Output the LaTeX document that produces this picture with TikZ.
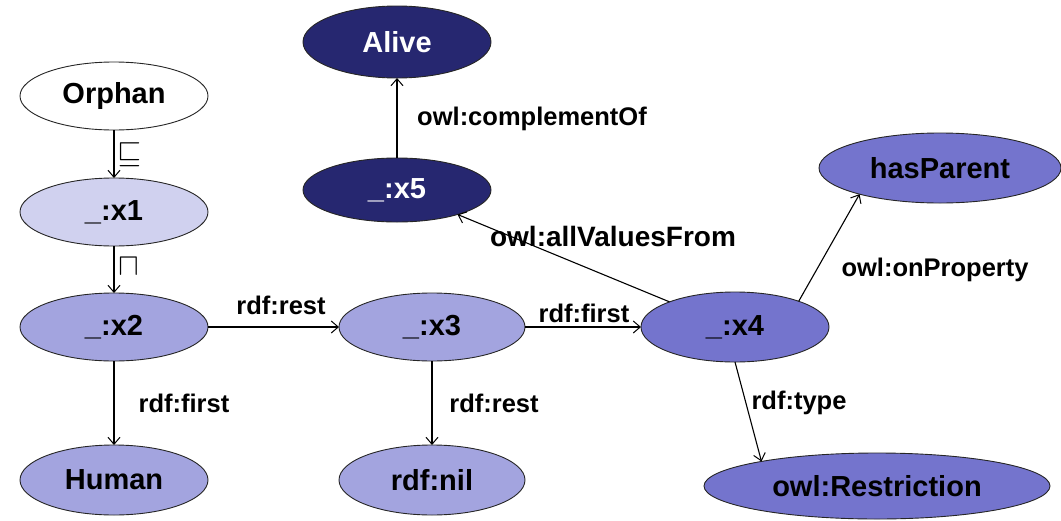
\documentclass[tikz,border=0pt]{standalone}
\usepackage{fontspec}
\setmainfont{Liberation Sans}
\usetikzlibrary{arrows.meta,shapes.geometric}
\definecolor{cwhite}{HTML}{FFFFFF}
\definecolor{clight}{HTML}{D0D1EF}
\definecolor{cmid}{HTML}{A3A4DF}
\definecolor{cdeep}{HTML}{7474CD}
\definecolor{cnavy}{HTML}{262770}
\begin{document}
\begin{tikzpicture}[x=1pt,y=-1pt,
  ent/.style={ellipse, draw=black!85, line width=0.9pt, inner sep=0pt, outer sep=0pt,
    minimum width=188pt, minimum height=68pt,
    font=\fontsize{29}{31}\selectfont\bfseries},
  lbl/.style={inner sep=0pt, font=\fontsize{25.5}{28}\selectfont\bfseries},
  sym/.style={inner sep=0pt, font=\fontsize{20}{22}\selectfont},
  conn/.style={draw=black, line width=1.1pt, -{Straight Barb[length=7pt,width=12pt,line width=1pt]}}
]
\useasboundingbox (0,0) rectangle (1061,520);
% nodes
\node[ent, fill=cwhite] (orphan) at (114,96) {Orphan};
\node[ent, fill=clight] (x1) at (114,212) {\_:x1};
\node[ent, fill=cmid] (x2) at (114,327) {\_:x2};
\node[ent, fill=cmid, minimum height=70pt] (human) at (114,480) {Human};
\node[ent, fill=cmid, minimum width=186pt] (x3) at (432,327) {\_:x3};
\node[ent, fill=cmid, minimum width=186pt, minimum height=70pt] (nil) at (432,480) {rdf:nil};
\node[ent, fill=cdeep, minimum height=70pt] (x4) at (735,327) {\_:x4};
\node[ent, fill=cnavy, text=white, minimum height=72pt] (alive) at (397,42) {Alive};
\node[ent, fill=cnavy, text=white, minimum height=64pt] (x5) at (397,190) {\_:x5};
\node[ent, fill=cdeep, minimum width=242pt, minimum height=70pt] (hasparent) at (940,168) {hasParent};
\node[ent, fill=cdeep, minimum width=346pt, minimum height=66pt] (restr) at (877,486) {owl:Restriction};
% connectors
\draw[conn] (orphan) -- (x1);
\draw[conn] (x1) -- (x2);
\draw[conn] (x2) -- (x3);
\draw[conn] (x3) -- (x4);
\draw[conn] (x2) -- (human);
\draw[conn] (x3) -- (nil);
\draw[conn] (x5) -- (alive);
\draw[conn] (x4.159) -- (x5.338);
\draw[conn] (x4.22) -- (hasparent.198);
\draw[conn] (x4.south) -- (restr.168);
% labels
\node[sym] (s1) at (130,155) {\scalebox{1.5}{$\sqsubseteq$}};
\node[sym] (s2) at (129,267) {\scalebox{1.5}{$\sqcap$}};
\node[lbl] (l1) at (281,305) {rdf:rest};
\node[lbl] (l2) at (584,313) {rdf:first};
\node[lbl] (l3) at (184,403) {rdf:first};
\node[lbl] (l4) at (494,403) {rdf:rest};
\node[lbl] (l5) at (799,403) {rdf:type};
\node[lbl] (l6) at (935,270) {owl:onProperty};
\node[lbl] (l7) at (532,119) {owl:complementOf};
\node[lbl, font=\fontsize{28}{30}\selectfont\bfseries] (l8) at (613,236) {owl:allValuesFrom};
\end{tikzpicture}
\end{document}
